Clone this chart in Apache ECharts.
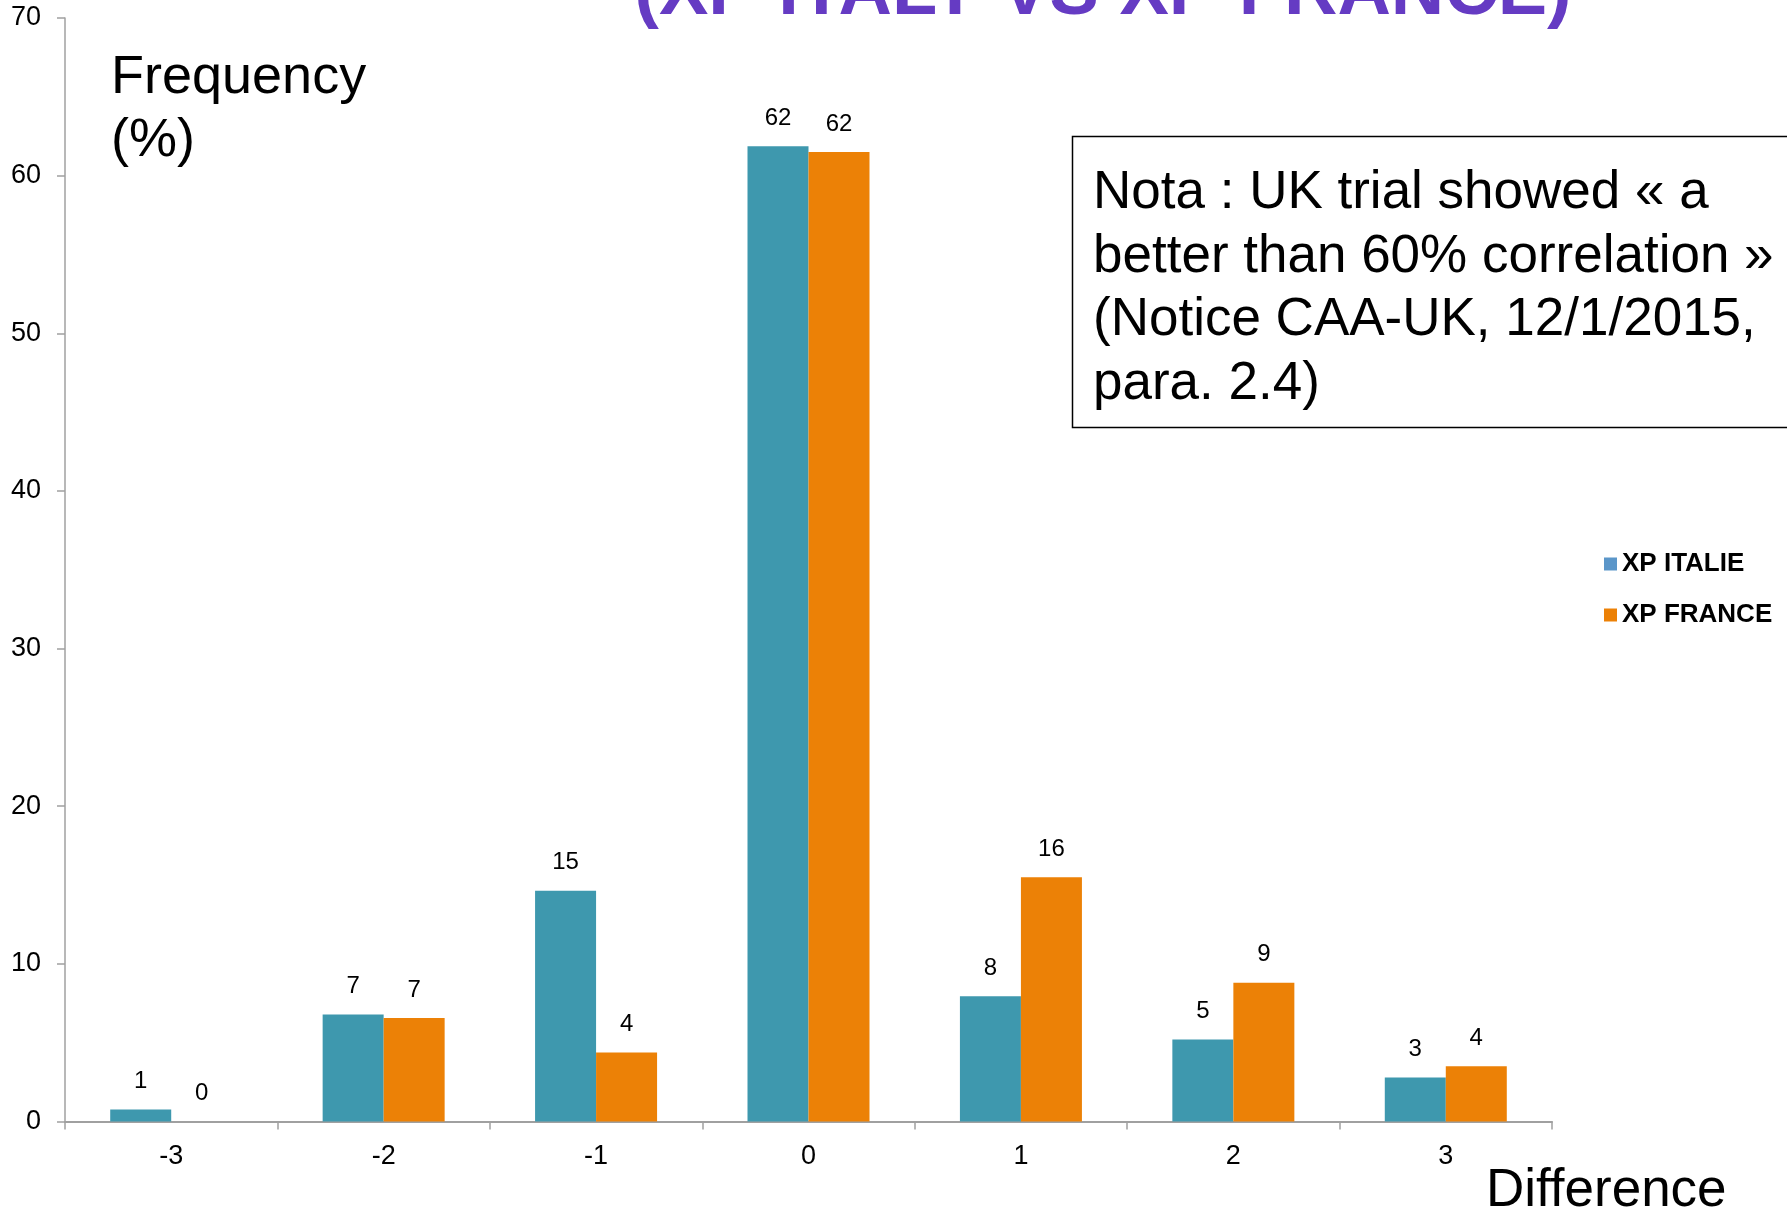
<!DOCTYPE html>
<html>
<head>
<meta charset="utf-8">
<title>XP ITALY VS XP FRANCE</title>
<script src="https://cdn.jsdelivr.net/npm/echarts@6/dist/echarts.min.js"></script>
<style>
  html, body { margin: 0; padding: 0; background: #ffffff; }
  #chart { width: 1787px; height: 1213px; }
</style>
</head>
<body>
<div id="chart"></div>
<script>
// Difference classes on the x axis
const categories = ['-3', '-2', '-1', '0', '1', '2', '3'];

// Frequency (%) for each difference class
const italieValues = [0.76, 6.78, 14.64, 61.87, 7.94, 5.2, 2.79];
const franceValues = [0, 6.57, 4.37, 61.5, 15.5, 8.8, 3.5];

const seriesNames = ['XP ITALIE', 'XP FRANCE'];
const barColors = ['#3E98AE', '#EC8106'];
const legendColors = ['#5B96C9', '#EC8106'];

const FONT = '"Liberation Sans", Arial, Helvetica, sans-serif';

const chart = echarts.init(document.getElementById('chart'), null, { renderer: 'canvas' });

const labelStyle = {
  show: true,
  position: 'top',
  distance: 16,
  fontFamily: FONT,
  fontSize: 24,
  color: '#000000',
  formatter: p => String(Math.round(p.value))
};

chart.setOption({
  animation: false,
  backgroundColor: '#ffffff',
  textStyle: { fontFamily: FONT },
  grid: { left: 65, right: 235, top: 18, bottom: 91.5, containLabel: false },
  legend: {
    orient: 'vertical',
    left: 1599,
    top: 546,
    itemWidth: 13,
    itemHeight: 13,
    itemGap: 25,
    icon: 'rect',
    textStyle: { fontFamily: FONT, fontSize: 26, fontWeight: 'bold', color: '#000000' },
    data: seriesNames.map((n, i) => ({ name: n, itemStyle: { color: legendColors[i] } }))
  },
  xAxis: {
    type: 'category',
    data: categories,
    axisLine: { lineStyle: { color: '#A0A0A0', width: 2 } },
    axisTick: { show: true, length: 8, lineStyle: { color: '#A0A0A0', width: 1.5 } },
    axisLabel: { fontFamily: FONT, fontSize: 27, color: '#000000', margin: 22 },
    splitLine: { show: false }
  },
  yAxis: {
    type: 'value',
    min: 0,
    max: 70,
    interval: 10,
    axisLine: { show: true, lineStyle: { color: '#A0A0A0', width: 1.5 } },
    axisTick: { show: true, length: 8, lineStyle: { color: '#A0A0A0', width: 1.5 } },
    axisLabel: { fontFamily: FONT, fontSize: 27, color: '#000000', margin: 24 },
    splitLine: { show: false }
  },
  series: [
    {
      name: seriesNames[0],
      type: 'bar',
      data: italieValues,
      barWidth: 61,
      barGap: '0%',
      itemStyle: { color: barColors[0] },
      label: labelStyle
    },
    {
      name: seriesNames[1],
      type: 'bar',
      data: franceValues,
      barWidth: 61,
      barGap: '0%',
      itemStyle: { color: barColors[1] },
      label: labelStyle
    }
  ],
  graphic: [
    {
      type: 'text',
      x: 1103,
      y: -6,
      style: {
        text: '(XP ITALY VS XP FRANCE)',
        font: 'bold 74px ' + FONT,
        fill: '#653BC3',
        align: 'center',
        verticalAlign: 'middle'
      }
    },
    {
      type: 'text',
      x: 111,
      y: 47,
      style: {
        text: 'Frequency\n(%)',
        font: '54px ' + FONT,
        fill: '#000000',
        lineHeight: 63,
        align: 'left',
        verticalAlign: 'top'
      }
    },
    {
      type: 'text',
      x: 1486,
      y: 1191,
      style: {
        text: 'Difference',
        font: '53px ' + FONT,
        fill: '#000000',
        align: 'left',
        verticalAlign: 'middle'
      }
    },
    {
      type: 'rect',
      shape: { x: 1072.5, y: 136.5, width: 800, height: 291 },
      style: { fill: '#ffffff', stroke: '#000000', lineWidth: 1.5 }
    },
    {
      type: 'text',
      x: 1093,
      y: 162,
      style: {
        text: 'Nota : UK trial showed « a\nbetter than 60% correlation »\n(Notice CAA-UK, 12/1/2015,\npara. 2.4)',
        font: '53px ' + FONT,
        fill: '#000000',
        lineHeight: 63.5,
        align: 'left',
        verticalAlign: 'top'
      }
    }
  ]
});
</script>
</body>
</html>
